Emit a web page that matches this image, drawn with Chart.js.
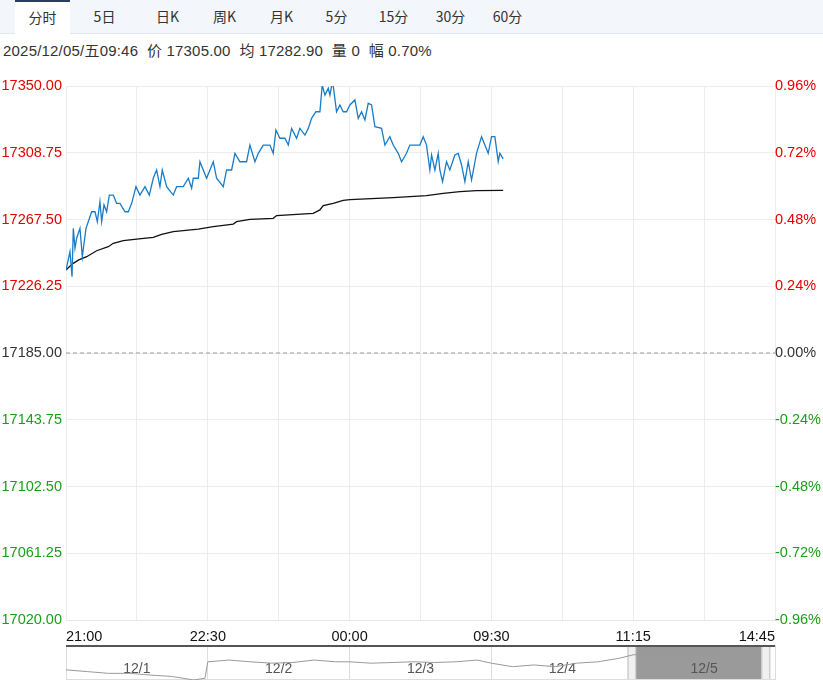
<!DOCTYPE html>
<html>
<head>
<meta charset="utf-8">
<script src="https://cdn.jsdelivr.net/npm/chart.js@4"></script>
<style>
body { margin: 0; width: 823px; height: 686px; background: #fff; font-family: "Noto Sans CJK SC", sans-serif; overflow: hidden; position: relative; }
.tabs { position: absolute; left: 0; top: 0; width: 823px; height: 33px; background: #f3f6fb; border-bottom: 1px solid #e3e8f0; }
.tab { position: absolute; top: 0; height: 33px; line-height: 33px; font-size: 14px; color: #333; text-align: center; }
.tab.active { background: #fff; border-top: 2px solid #2b3d5c; height: 32px; line-height: 31px; }
.info { position: absolute; left: 3px; top: 39px; font-size: 15px; color: #333; font-family: "Liberation Sans", "Noto Sans CJK SC", sans-serif; letter-spacing: 0.2px; }
#main { position: absolute; left: 0; top: 70px; }
#nav { position: absolute; left: 0; top: 643px; }
</style>
</head>
<body>
<div class="tabs">
  <div class="tab active" style="left:15px;width:55px">分时</div>
  <div class="tab" style="left:82px;width:45px">5日</div>
  <div class="tab" style="left:140px;width:55px">日K</div>
  <div class="tab" style="left:197px;width:55px">周K</div>
  <div class="tab" style="left:254px;width:55px">月K</div>
  <div class="tab" style="left:314px;width:45px">5分</div>
  <div class="tab" style="left:366px;width:55px">15分</div>
  <div class="tab" style="left:423px;width:55px">30分</div>
  <div class="tab" style="left:480px;width:55px">60分</div>
</div>
<div class="info">2025/12/05/五09:46&nbsp; 价 17305.00&nbsp; 均 17282.90&nbsp; 量 0&nbsp; 幅 0.70%</div>
<canvas id="main" width="823" height="580"></canvas>
<canvas id="nav" width="823" height="40"></canvas>
<script>
const prevClose = 17185;
const yTicks = [17020, 17061.25, 17102.5, 17143.75, 17185, 17226.25, 17267.5, 17308.75, 17350];
const xTickLabels = ['21:00', '22:30', '00:00', '09:30', '11:15', '14:45'];

const priceX = [0,0.56,0.85,1.03,1.27,1.50,1.97,2.30,2.82,3.62,4.09,4.42,4.79,5.03,5.36,5.73,6.11,6.67,7.14,7.61,8.32,8.79,9.26,9.87,10.43,11.14,11.75,12.31,12.78,13.25,13.58,14.19,15.13,15.60,16.54,17.25,17.72,17.95,18.66,18.89,19.83,20.30,20.77,21.24,22.18,22.65,23.36,23.83,24.53,25.47,25.94,26.65,27.12,27.82,28.76,29.23,29.61,30.17,30.88,31.35,31.82,32.52,32.99,33.70,34.17,34.64,35.25,35.81,36.14,36.52,36.99,37.22,37.60,38.16,38.63,39.10,39.57,40.04,40.75,41.22,41.69,42.16,42.63,43.10,43.57,44.51,44.98,45.68,46.15,46.86,47.33,48.03,48.50,49.91,50.38,50.85,51.32,51.56,52.03,52.50,52.73,53.11,53.67,54.14,54.85,55.32,55.79,56.26,56.73,57.20,57.90,58.61,59.08,59.55,60.02,60.49,60.96,61.19,61.66];
const priceY = [17236.3,17247.6,17232.2,17262.0,17249.7,17255.9,17262.0,17244.5,17262.0,17272.3,17272.3,17266.2,17278.5,17266.2,17276.5,17272.3,17282.6,17282.6,17277.5,17277.5,17272.3,17272.3,17277.5,17287.8,17282.6,17287.8,17282.6,17293.0,17298.1,17287.8,17298.1,17287.8,17282.6,17287.8,17287.8,17293.0,17286.8,17293.0,17293.0,17303.2,17293.0,17298.1,17303.2,17293.0,17287.8,17298.1,17298.1,17308.4,17303.2,17303.2,17313.5,17303.2,17308.4,17313.5,17313.5,17308.4,17322.8,17317.7,17317.7,17313.5,17323.8,17317.7,17323.8,17319.7,17323.8,17330.0,17334.1,17334.1,17350.6,17344.4,17348.6,17344.4,17353.1,17334.1,17338.3,17334.1,17334.1,17338.3,17341.4,17330.0,17334.1,17329.0,17339.3,17338.3,17324.9,17323.8,17313.5,17318.7,17313.5,17308.4,17303.2,17308.4,17313.5,17313.5,17318.7,17313.5,17298.1,17307.4,17298.1,17308.4,17298.1,17290.9,17303.2,17298.1,17307.4,17308.4,17301.2,17290.9,17303.2,17291.9,17308.4,17318.7,17313.5,17308.4,17318.7,17318.7,17303.2,17308.4,17305.0];

const avgX = [0,0.5,1.03,1.8,2.91,4.32,5.97,6.67,8.08,9.96,12.31,13.49,15.13,18.66,20.77,23.59,24.06,25.94,29.23,29.70,34.87,35.81,36.28,37.69,39.10,40.04,46.15,50.85,53.20,55.55,57.90,61.66];
const avgY = [17236.3,17238.5,17240.4,17242.5,17244.5,17248.2,17250.7,17252.8,17254.4,17255.4,17256.5,17258.3,17260.0,17261.6,17263.1,17264.7,17266.2,17267.6,17268.2,17269.9,17271.3,17273.4,17276.1,17277.5,17279.3,17279.8,17281.0,17282.2,17283.7,17284.7,17285.3,17285.5];

const navDays = ['12/1', '12/2', '12/3', '12/4', '12/5'];
const navX = [0,1.5,3,4.5,6,7.5,9,9.8,10,11.5,13,14.5,16,17.5,19,20,21.5,23,24.5,26,27.5,29,30,31.5,33,34.5,36,37.5,39,40,41.5,43,44.5,46];
const navY = [2.9,2.4,1.9,1.9,1.4,1.0,0,0.5,5.2,5.7,5.2,4.8,5.0,5.7,5.2,5.2,4.8,5.0,5.2,5.0,5.2,5.7,4.8,3.8,4.3,3.8,4.8,5.2,6.2,7.2,7.5,7.7,8.0,7.7];

function zip(xs, ys) {
    return xs.map((x, i) => ({ x: x, y: ys[i] }));
}

function tickColor(v) {
    if (Math.abs(v - prevClose) < 0.01) return '#333';
    return v > prevClose ? '#e50000' : '#1a9e1a';
}

const numFont = { family: 'Liberation Sans, Arial, sans-serif', size: 14.5 };

new Chart(document.getElementById('main'), {
    type: 'line',
    data: {
        datasets: [
            { data: zip(priceX, priceY), borderColor: '#1a7cc7', borderWidth: 1.3, pointRadius: 0, tension: 0, yAxisID: 'y' },
            { data: zip(avgX, avgY), borderColor: '#111', borderWidth: 1.3, pointRadius: 0, tension: 0, yAxisID: 'y' },
            { data: [{ x: 0, y: prevClose }, { x: 100, y: prevClose }], borderColor: '#999', borderWidth: 1, borderDash: [4, 3], pointRadius: 0, yAxisID: 'y' }
        ]
    },
    options: {
        responsive: false,
        animation: false,
        layout: { padding: { top: 16, left: 0, right: 0, bottom: 0 } },
        plugins: { legend: { display: false }, tooltip: { enabled: false } },
        scales: {
            x: {
                type: 'linear', min: 0, max: 100,
                afterFit: s => { s.height = 30; },
                grid: { color: '#ececec', drawTicks: false },
                border: { color: '#e6e6e6' },
                ticks: {
                    stepSize: 10, autoSkip: false, maxRotation: 0, align: 'inner', padding: 8,
                    color: '#111', font: numFont,
                    callback: v => (v % 20 === 0 ? xTickLabels[v / 20] : '')
                }
            },
            y: {
                min: 17020, max: 17350,
                afterBuildTicks: s => { s.ticks = yTicks.map(v => ({ value: v })); },
                afterFit: s => { s.width = 66; },
                grid: { color: '#ececec', drawTicks: false },
                border: { display: false },
                ticks: {
                    padding: 4, font: numFont,
                    color: c => tickColor(c.tick.value),
                    callback: v => v.toFixed(2)
                }
            },
            y2: {
                position: 'right', min: 17020, max: 17350,
                afterBuildTicks: s => { s.ticks = yTicks.map(v => ({ value: v })); },
                afterFit: s => { s.width = 48; },
                grid: { display: false, drawTicks: false },
                border: { display: false },
                ticks: {
                    padding: 0, font: numFont,
                    color: c => tickColor(c.tick.value),
                    callback: v => ((v - prevClose) / prevClose * 100).toFixed(2) + '%'
                }
            }
        }
    }
});

const navDecor = {
    id: 'navDecor',
    beforeDatasetsDraw(chart) {
        const ctx = chart.ctx;
        const a = chart.chartArea;
        const xs = chart.scales.x;
        const l = xs.getPixelForValue(39.6);
        const r = xs.getPixelForValue(49.6);
        ctx.save();
        ctx.fillStyle = '#9a9a9a';
        ctx.fillRect(l + 8, a.top, r - l - 16, a.bottom - a.top);
        ctx.fillStyle = '#f0f0f0';
        ctx.strokeStyle = '#bbb';
        ctx.fillRect(l, a.top, 8, a.bottom - a.top);
        ctx.strokeRect(l + 0.5, a.top + 0.5, 8, a.bottom - a.top - 1);
        ctx.fillRect(r - 8, a.top, 8, a.bottom - a.top);
        ctx.strokeRect(r - 7.5, a.top + 0.5, 8, a.bottom - a.top - 1);
        ctx.fillStyle = '#555';
        ctx.fillRect(a.left, a.top, a.right - a.left, 2);
        ctx.fillStyle = '#ddd';
        ctx.fillRect(a.left, a.bottom - 1, a.right - a.left, 1);
        ctx.font = '14px Liberation Sans, Arial, sans-serif';
        ctx.fillStyle = '#555';
        ctx.textAlign = 'center';
        ctx.textBaseline = 'middle';
        navDays.forEach((d, i) => {
            ctx.fillText(d, xs.getPixelForValue(i * 10 + 5), a.top + 24);
        });
        ctx.restore();
    }
};

new Chart(document.getElementById('nav'), {
    type: 'line',
    data: {
        datasets: [
            { data: zip(navX, navY), borderColor: '#999', borderWidth: 1, pointRadius: 0, tension: 0 }
        ]
    },
    options: {
        responsive: false,
        animation: false,
        layout: { padding: { top: 2, left: 66, right: 48, bottom: 3 } },
        plugins: { legend: { display: false }, tooltip: { enabled: false } },
        scales: {
            x: {
                type: 'linear', min: 0, max: 50,
                grid: { color: '#ddd', drawTicks: false },
                border: { display: false },
                ticks: { display: false, stepSize: 10 }
            },
            y: { min: 0, max: 10, display: false }
        }
    },
    plugins: [navDecor]
});
</script>
</body>
</html>
